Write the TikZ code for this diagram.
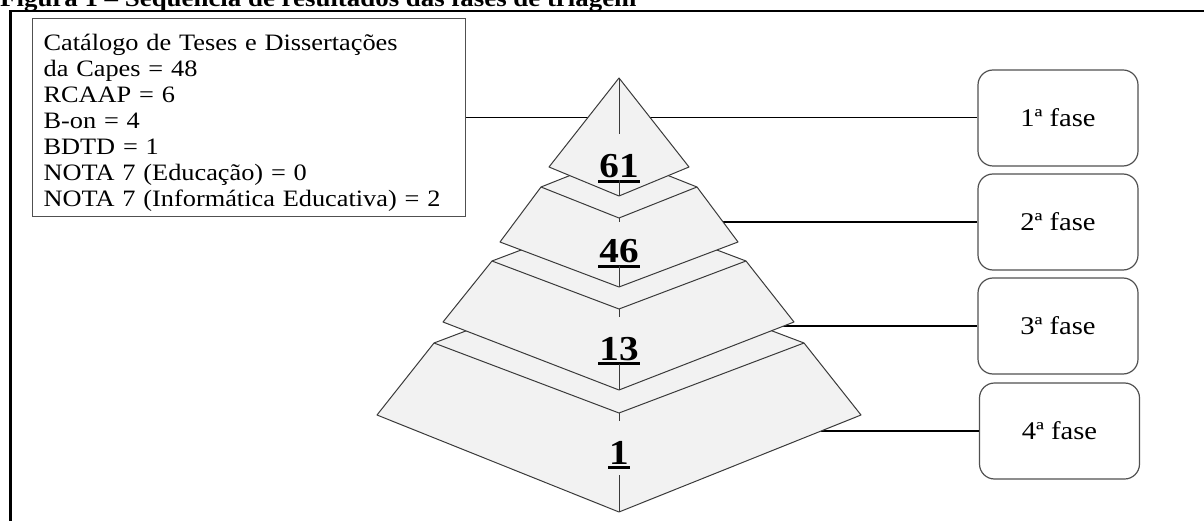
\documentclass[tikz,border=0pt]{standalone}
\usepackage{fontspec}
\setmainfont{Liberation Serif}
\newfontfamily\wide[FakeStretch=1.12]{Liberation Serif}
\definecolor{pyrfill}{HTML}{F2F2F2}
\definecolor{edgegray}{HTML}{3A3A3A}
\definecolor{boxgray}{HTML}{505050}
\begin{document}
\begin{tikzpicture}[x=1pt,y=-1pt,
  layer/.style={draw=edgegray, fill=pyrfill, line width=1pt, line join=round},
  ridge/.style={draw=edgegray, line width=1pt},
  conn/.style={draw=black, line width=1.2pt},
  phase/.style={draw=boxgray, rounded corners=15pt, minimum width=160pt, minimum height=96pt,
    line width=1.2pt, inner sep=0pt, font=\wide\fontsize{25.5}{28}\selectfont},
  num/.style={anchor=base, inner sep=0pt, font=\wide\bfseries\fontsize{35}{38}\selectfont},
  uline/.style={draw=black, line width=2.3pt},
  frame/.style={draw=black, line width=2.6pt}]
\useasboundingbox (0,0) rectangle (1204,521);

% title (cut at the top of the picture)
\node[anchor=base west, inner sep=0pt, font=\wide\bfseries\fontsize{24}{28}\selectfont]
  (title) at (0,7) {Figura 1 – Sequência de resultados das fases de triagem};

% outer frame
\draw[frame] (10.5,530) -- (10.5,11) -- (1215,11);

% text box
\node[draw=boxgray, line width=1.2pt, anchor=north west, text width=411pt,
  inner xsep=11pt, inner ysep=5pt, align=left,
  font=\wide\fontsize{23.5}{26}\selectfont] (tb) at (32,18)
  {\rule{0pt}{27pt}Catálogo de Teses e Dissertações\\
   da Capes = 48\\
   RCAAP = 6\\
   B-on = 4\\
   BDTD = 1\\
   NOTA 7 (Educação) = 0\\
   NOTA 7 (Informática Educativa) = 2};

% phase boxes
\node[phase] (f1) at (1058,118) {1ª fase};
\node[phase] (f2) at (1058,222) {2ª fase};
\node[phase] (f3) at (1058,326) {3ª fase};
\node[phase] (f4) at (1059.5,431) {4ª fase};

% connector start points on the pyramid
\coordinate (c2) at (723,222);
\coordinate (c3) at (781,326);
\coordinate (c4) at (821,431);

% connectors (drawn beneath the pyramid)
\draw[conn] (tb.east) -- (tb.east -| f1.west);
\draw[conn] (c2) -- (f2.west);
\draw[conn] (c3) -- (f3.west);
\draw[conn] (c4) -- (f4.west);

% pyramid vertices
\coordinate (L4tl) at (434,343); \coordinate (L4tb) at (619,273); \coordinate (L4tr) at (804,343);
\coordinate (L4br) at (861,415); \coordinate (L4bf) at (619,512); \coordinate (L4bl) at (377,415);
\coordinate (L4tf) at (619,413);
\coordinate (L3tl) at (492,261); \coordinate (L3tb) at (619,213); \coordinate (L3tr) at (746,261);
\coordinate (L3br) at (794,322); \coordinate (L3bf) at (619,390); \coordinate (L3bl) at (443,322);
\coordinate (L3tf) at (619,309);
\coordinate (L2tl) at (541,187); \coordinate (L2tb) at (619,156); \coordinate (L2tr) at (697,187);
\coordinate (L2br) at (738,242); \coordinate (L2bf) at (619,287); \coordinate (L2bl) at (500,242);
\coordinate (L2tf) at (619,218);
\coordinate (L1a) at (619,78); \coordinate (L1l) at (549,167); \coordinate (L1r) at (689,167);
\coordinate (L1bf) at (619,196);

% layer 4 (bottom)
\filldraw[layer] (L4tl) -- (L4tb) -- (L4tr) -- (L4br) -- (L4bf) -- (L4bl) -- cycle;
\draw[ridge] (L4tl) -- (L4tf) -- (L4tr);
% layer 3
\filldraw[layer] (L3tl) -- (L3tb) -- (L3tr) -- (L3br) -- (L3bf) -- (L3bl) -- cycle;
\draw[ridge] (L3tl) -- (L3tf) -- (L3tr);
% layer 2
\filldraw[layer] (L2tl) -- (L2tb) -- (L2tr) -- (L2br) -- (L2bf) -- (L2bl) -- cycle;
\draw[ridge] (L2tl) -- (L2tf) -- (L2tr);
% layer 1 (top)
\filldraw[layer] (L1a) -- (L1r) -- (L1bf) -- (L1l) -- cycle;

% numbers
\node[num] (n1) at (619,178) {61};
\node[num] (n2) at (619,263) {46};
\node[num] (n3) at (619,360) {13};
\node[num] (n4) at (619,464) {1};
\foreach \n in {n1,n2,n3,n4}{
  \draw[uline] ([xshift=-1pt,yshift=-3.5pt]\n.base west) -- ([xshift=1pt,yshift=-3.5pt]\n.base east);
}

% front ridge, interrupted by the numbers
\coordinate (r1a) at (619,134); \coordinate (r1b) at (619,180);
\coordinate (r2a) at (619,222); \coordinate (r2b) at (619,266);
\coordinate (r3a) at (619,317); \coordinate (r3b) at (619,364);
\coordinate (r4a) at (619,421); \coordinate (r4b) at (619,475);
\draw[ridge] (L1a) -- (r1a);  \draw[ridge] (r1b) -- (L1bf);
\draw[ridge] (L2tf) -- (r2a); \draw[ridge] (r2b) -- (L2bf);
\draw[ridge] (L3tf) -- (r3a); \draw[ridge] (r3b) -- (L3bf);
\draw[ridge] (L4tf) -- (r4a); \draw[ridge] (r4b) -- (L4bf);
\end{tikzpicture}
\end{document}
